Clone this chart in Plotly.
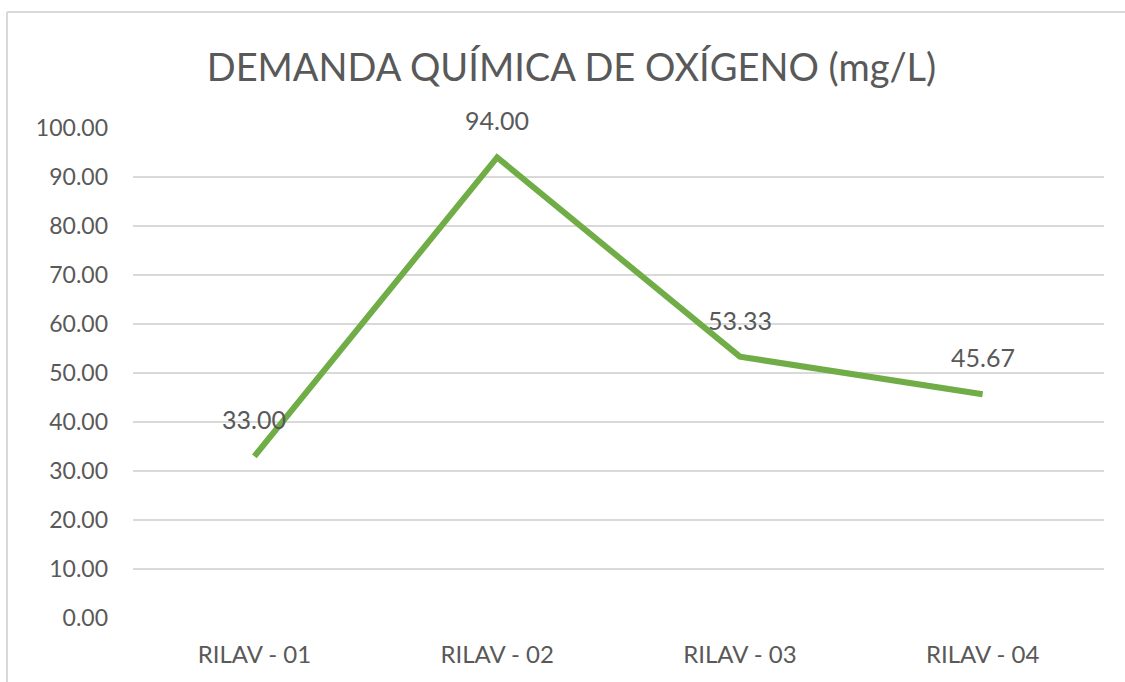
import plotly.graph_objects as go

categories = ["RILAV - 01", "RILAV - 02", "RILAV - 03", "RILAV - 04"]
dqo_values = [33.00, 94.00, 53.33, 45.67]
tick_vals = [0, 10, 20, 30, 40, 50, 60, 70, 80, 90, 100]
tick_text = [f"{v:.2f}" for v in tick_vals]

TEXT = "#595959"
FONT = "Lato, 'Open Sans', sans-serif"

fig = go.Figure()
fig.add_trace(go.Scatter(
    x=categories, y=dqo_values, mode="lines",
    line=dict(color="#70AD47", width=6),
    hoverinfo="skip", showlegend=False,
))

for c, v in zip(categories, dqo_values):
    fig.add_annotation(x=c, y=v, text=f"{v:.2f}", showarrow=False,
                       yshift=37, font=dict(size=25, color=TEXT, family=FONT))

W, H = 1125, 682
L, R, T, B = 133, 21, 128, 64
pw, ph = W - L - R, H - T - B

def px(x):
    return (x - L) / pw

def py(y):
    return (H - B - y) / ph

border = dict(color="#D9D9D9", width=2)
fig.add_shape(type="line", xref="paper", yref="paper",
              x0=px(7), x1=px(1130), y0=py(12), y1=py(12), line=border)
fig.add_shape(type="line", xref="paper", yref="paper",
              x0=px(7), x1=px(7), y0=py(12), y1=py(690), line=border)

fig.update_layout(
    width=W, height=H,
    margin=dict(l=L, r=R, t=T, b=B),
    paper_bgcolor="white", plot_bgcolor="white",
    title=dict(text="DEMANDA QUÍMICA DE OXÍGENO (mg/L)", x=0.508, xanchor="center",
               y=1 - 68 / H, yanchor="middle",
               font=dict(size=38, color=TEXT, family=FONT)),
    xaxis=dict(range=[-0.5, 3.5], showgrid=False, showline=False, zeroline=False,
               tickfont=dict(size=24, color=TEXT, family=FONT), ticks="",
               ticklabelstandoff=20),
    yaxis=dict(range=[0, 100], tickvals=tick_vals, ticktext=tick_text,
               showgrid=True, gridcolor="#D9D9D9", gridwidth=2,
               zeroline=False, showline=False, ticks="",
               tickfont=dict(size=23, color=TEXT, family=FONT),
               ticklabelstandoff=24),
    font=dict(family=FONT, color=TEXT),
)

fig.write_html("out.html", config={"displayModeBar": False},
               post_script="document.body.style.margin='0';")
